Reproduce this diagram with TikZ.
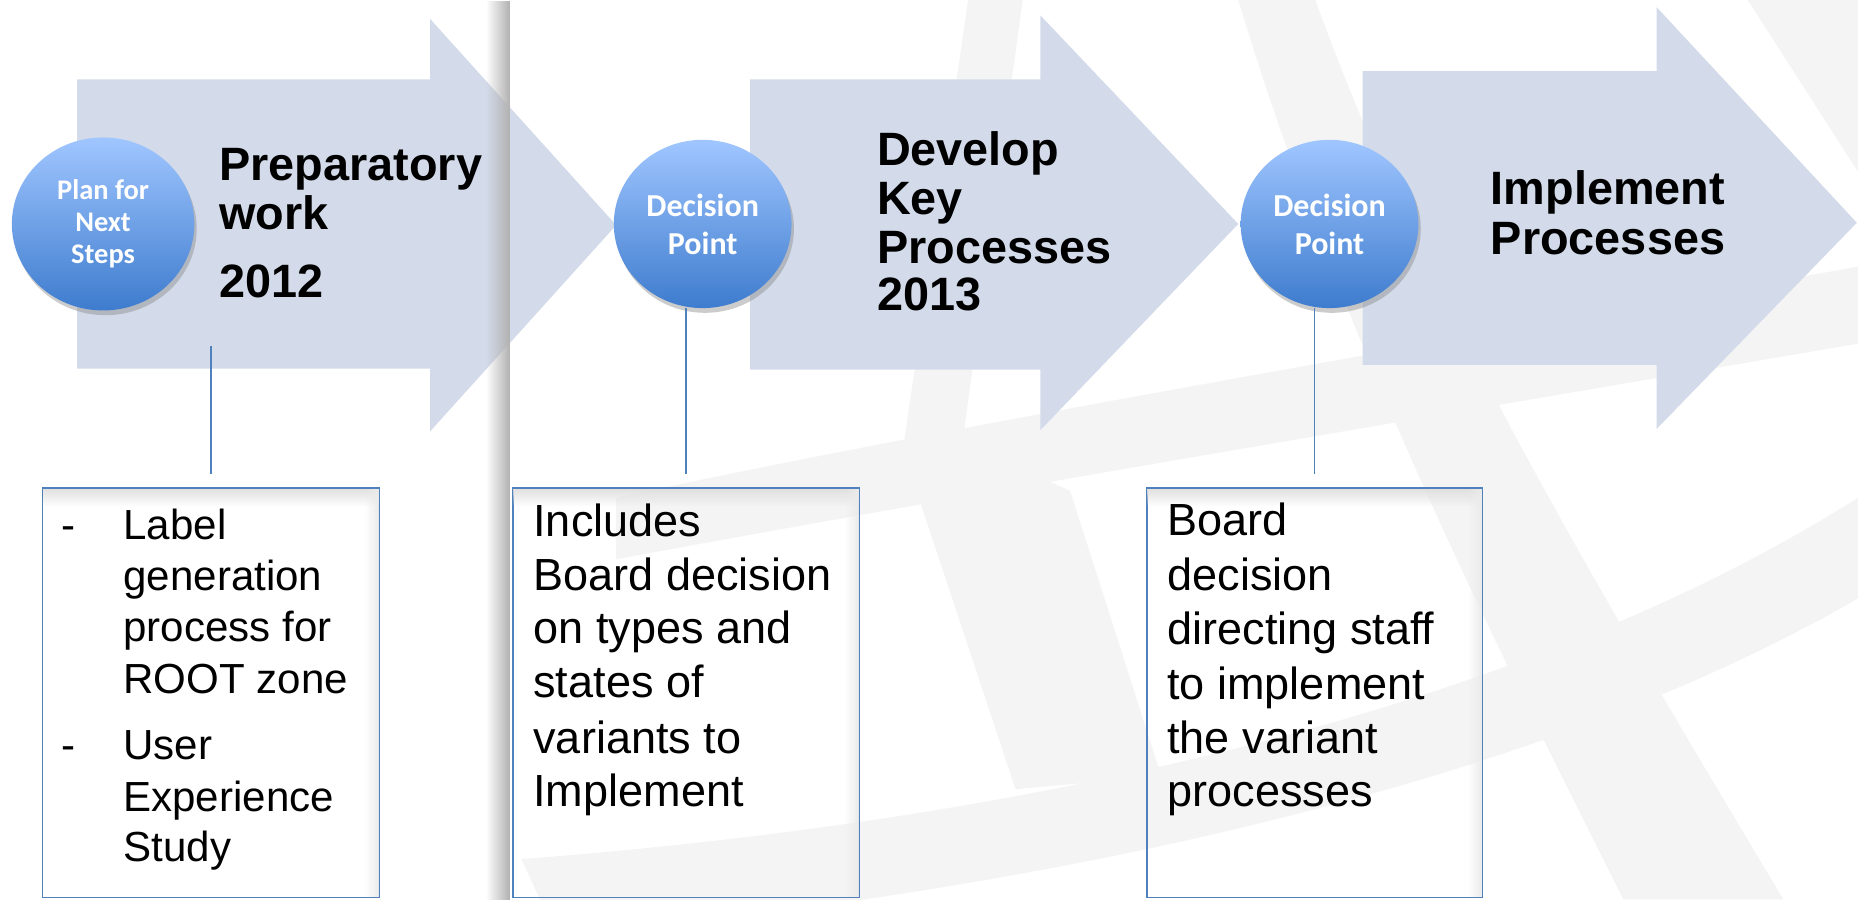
\documentclass[tikz,border=0pt]{standalone}
\usepackage{fontspec}
\setmainfont{Liberation Sans}
\newfontfamily\carlito{Carlito}
\usetikzlibrary{shapes.geometric,shadows,fadings}

\definecolor{arrowfill}{RGB}{211,219,234}
\definecolor{linkblue}{RGB}{79,129,189}
\definecolor{ctop}{RGB}{160,198,255}
\definecolor{cbot}{RGB}{62,124,206}
\definecolor{wmark}{RGB}{244,244,244}

\tikzfading[name=fadeR, left color=transparent!100, right color=transparent!0]
\tikzfading[name=fadeD, top color=transparent!0, bottom color=transparent!100]

\begin{document}
\begin{tikzpicture}[x=1pt,y=-1pt,
  arrowshape/.style={fill=arrowfill},
  bubble/.style={ellipse, minimum width=150pt, minimum height=142pt, inner sep=0pt,
    top color=ctop, bottom color=cbot, draw=none,
    drop shadow={shadow xshift=2pt, shadow yshift=-4pt, opacity=0.4},
    text=white, align=center},
  bubtxt/.style={font=\carlito\bfseries\fontsize{27}{32}\selectfont},
  head/.style={anchor=base west, inner sep=0pt, font=\bfseries\fontsize{39.5}{42}\selectfont},
  bodyA/.style={anchor=base west, inner sep=0pt, font=\fontsize{35.5}{43}\selectfont},
  bodyB/.style={anchor=base west, inner sep=0pt, font=\fontsize{38}{46}\selectfont},
  note/.style={rectangle, draw=linkblue, line width=1.4pt, inner sep=0pt, minimum height=345.5pt},
  link/.style={draw=linkblue, line width=1.2pt}
]
\useasboundingbox (0,0) rectangle (1568,759);
\fill[white] (0,0) rectangle (1568,759);

% watermark
\begin{scope}
\clip (430,0) rectangle (1568,759);
\fill[wmark] (520,420) .. controls (800,360) and (1100,310) .. (1568,225) -- (1568,290) .. controls (1100,370) and (800,420) .. (520,472) -- cycle;
\fill[wmark] (440,725) .. controls (900,690) and (1300,590) .. (1568,420) -- (1568,505) .. controls (1300,660) and (900,750) .. (470,790) -- cycle;
\fill[wmark] (1045,0) -- (1110,0) .. controls (1200,250) and (1350,500) .. (1505,759) -- (1370,759) .. controls (1250,520) and (1130,280) .. (1045,0) -- cycle;
\fill[wmark] (817,0) -- (863,0) -- (812,375) -- (903,414) -- (980,655) -- (857,666) -- (762,380) -- cycle;
\fill[wmark] (1475,0) -- (1568,0) -- (1568,145) -- cycle;
\end{scope}

% arrows
\fill[arrowshape] (65,67) -- (363,67) -- (363,16) -- (520,190) -- (363,364) -- (363,311) -- (65,311) -- cycle;
\fill[arrowshape] (633,67) -- (878,67) -- (878,13) -- (1045,189) -- (878,363) -- (878,312) -- (633,312) -- cycle;
\fill[arrowshape] (1150,60) -- (1398,60) -- (1398,6) -- (1567,188) -- (1398,362) -- (1398,308) -- (1150,308) -- cycle;

% page shadow
\fill[black!30, path fading=fadeR] (410,0) rectangle (430,759);

% bubbles
\node[bubble, minimum width=154pt, minimum height=146pt, font=\carlito\bfseries\fontsize{24}{27}\selectfont] (c1) at (87,189) {Plan for\\Next\\Steps};
\node[bubble, bubtxt] (c2) at (593,189) {Decision\\Point};
\node[bubble, bubtxt] (c3) at (1122,189) {Decision\\Point};

% boxes
\node[note, minimum width=284pt] (b1) at (178,584.75) {};
\node[note, minimum width=292pt] (b2) at (579,584.75) {};
\node[note, minimum width=283pt] (b3) at (1109.5,584.75) {};
\foreach \bx in {b1,b2,b3}{
  \fill[black!12, path fading=fadeD] ([xshift=1pt,yshift=-1pt]\bx.north west) rectangle ([xshift=-1pt,yshift=-16pt]\bx.north east);
  \fill[black!8, path fading=fadeR] ([xshift=-13pt,yshift=-1pt]\bx.north east) rectangle ([xshift=-1pt,yshift=1pt]\bx.south east);
}

% connectors
\coordinate (l1top) at (178,292);
\draw[link] (l1top) -- ([yshift=11pt]b1.north);
\draw[link] (b2.north |- c2.south) -- ([yshift=11pt]b2.north);
\draw[link] (b3.north |- c3.south) -- ([yshift=11pt]b3.north);

% headings
\node[head] (h1a) at (185,152) {Preparatory};
\node[head] (h1b) at (185,194) {work};
\node[head] (h1c) at (185,251) {2012};
\node[head] (h2a) at (740,140) {Develop};
\node[head] (h2b) at (740,181) {Key};
\node[head] (h2c) at (740,222) {Processes};
\node[head] (h2d) at (740,262) {2013};
\node[head] (h3a) at (1258,173) {Implement};
\node[head] (h3b) at (1258,215) {Processes};

% box 1 text
\node[bodyA] (d1) at (52,455) {-};
\node[bodyA] (d2) at (52,641) {-};
\node[bodyA] (t1a) at (104,455) {Label};
\node[bodyA] (t1b) at (104,498) {generation};
\node[bodyA] (t1c) at (104,541.5) {process for};
\node[bodyA] (t1d) at (104,585) {ROOT zone};
\node[bodyA] (t1e) at (104,641) {User};
\node[bodyA] (t1f) at (104,685) {Experience};
\node[bodyA] (t1g) at (104,727) {Study};

% box 2 text
\node[bodyB] (t2a) at (450,453) {Includes};
\node[bodyB] (t2b) at (450,498) {Board decision};
\node[bodyB] (t2c) at (450,543) {on types and};
\node[bodyB] (t2d) at (450,589) {states of};
\node[bodyB] (t2e) at (450,636) {variants to};
\node[bodyB] (t2f) at (450,681) {Implement};

% box 3 text
\node[bodyB] (t3a) at (985,452) {Board};
\node[bodyB] (t3b) at (985,498) {decision};
\node[bodyB] (t3c) at (985,544) {directing staff};
\node[bodyB] (t3d) at (985,590) {to implement};
\node[bodyB] (t3e) at (985,636) {the variant};
\node[bodyB] (t3f) at (985,681) {processes};
\end{tikzpicture}
\end{document}
